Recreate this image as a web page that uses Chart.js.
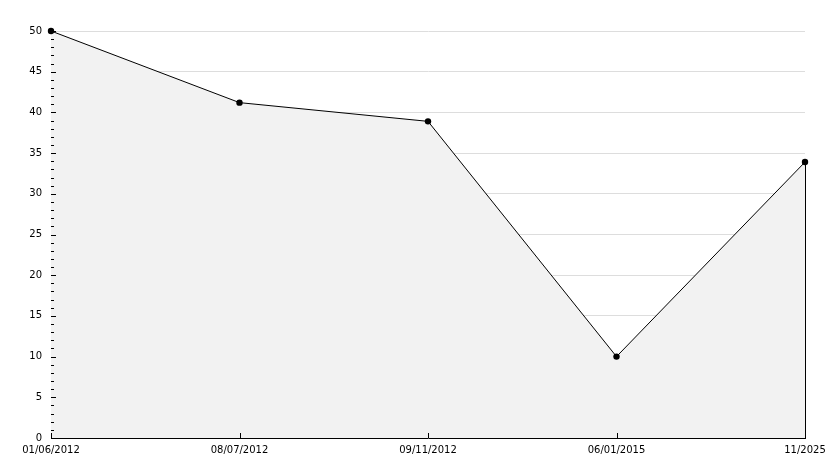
<!DOCTYPE html>
<html>
<head>
<meta charset="utf-8">
<script src="https://cdn.jsdelivr.net/npm/chart.js@4.4.0/dist/chart.umd.min.js"></script>
<style>
  html, body { margin: 0; padding: 0; background: #fff; }
  #wrap { width: 834px; height: 468px; }
</style>
</head>
<body>
<div id="wrap"><canvas id="chart" width="834" height="468"></canvas></div>
<script>
const dates = ["01/06/2012", "08/07/2012", "09/11/2012", "06/01/2015", "11/2025"];
const values = [50, 41.2, 38.9, 10, 33.9];
const yMin = 0, yMax = 50, yMajor = 5;

// inner tick marks + closing edge of the filled area
const innerTicks = {
  id: "innerTicks",
  afterDatasetsDraw(chart) {
    const ctx = chart.ctx;
    const x = chart.scales.x, y = chart.scales.y;
    const area = chart.chartArea;
    ctx.save();
    ctx.strokeStyle = "#000";
    ctx.lineWidth = 1;
    ctx.beginPath();
    for (let v = yMin; v <= yMax; v++) {
      const py = Math.round(y.getPixelForValue(v)) + 0.5;
      const len = v % yMajor === 0 ? 5 : 3;
      ctx.moveTo(area.left, py);
      ctx.lineTo(area.left + len, py);
    }
    dates.forEach((d, i) => {
      const px = Math.round(x.getPixelForValue(i)) + 0.5;
      ctx.moveTo(px, area.bottom);
      ctx.lineTo(px, area.bottom - 5);
    });
    const last = values.length - 1;
    const lx = Math.round(x.getPixelForValue(last)) + 0.5;
    ctx.moveTo(lx, y.getPixelForValue(values[last]));
    ctx.lineTo(lx, area.bottom);
    ctx.stroke();
    ctx.restore();
  }
};

new Chart(document.getElementById("chart"), {
  type: "line",
  data: {
    labels: dates,
    datasets: [{
      data: values,
      borderColor: "#000",
      borderWidth: 1,
      backgroundColor: "#f2f2f2",
      fill: "origin",
      tension: 0,
      clip: false,
      pointRadius: 3.2,
      pointBackgroundColor: "#000",
      pointBorderColor: "#000",
      pointBorderWidth: 0
    }]
  },
  options: {
    responsive: false,
    animation: false,
    layout: { padding: { top: 31, right: 29, left: 0, bottom: 0 } },
    plugins: { legend: { display: false }, tooltip: { enabled: false } },
    scales: {
      x: {
        offset: false,
        grid: { display: false, drawTicks: false },
        border: { display: true, color: "#000", width: 1 },
        ticks: {
          autoSkip: false,
          maxRotation: 0,
          padding: 6,
          color: "#000",
          font: { family: "DejaVu Sans", size: 10 }
        },
        afterFit(s) { s.height = 30; }
      },
      y: {
        min: yMin,
        max: yMax,
        grid: {
          drawTicks: false,
          color: c => (c.tick && c.tick.value % yMajor === 0 && c.tick.value !== 0) ? "#dddddd" : "rgba(0,0,0,0)"
        },
        border: { display: true, color: "#000", width: 1 },
        ticks: {
          stepSize: 1,
          autoSkip: false,
          padding: 9,
          color: "#000",
          font: { family: "DejaVu Sans", size: 10 },
          callback: v => (v % yMajor === 0 ? v : "")
        },
        afterFit(s) { s.width = 51; }
      }
    }
  },
  plugins: [innerTicks]
});
</script>
</body>
</html>
